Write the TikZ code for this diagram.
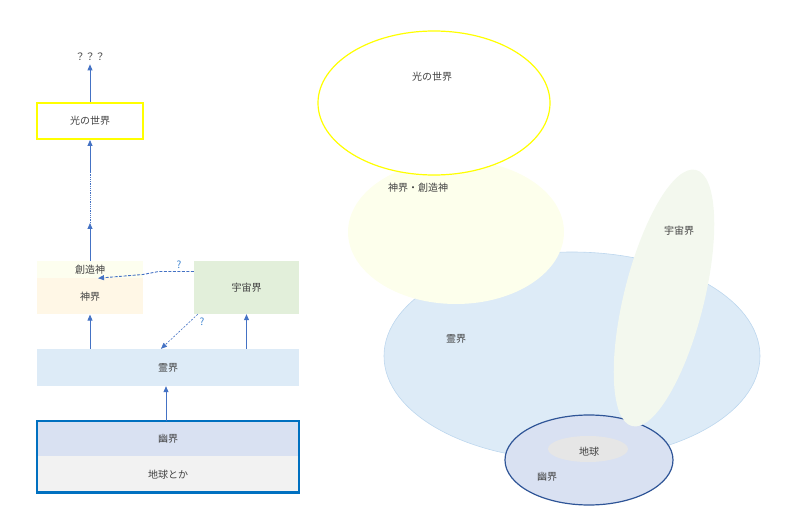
\documentclass[tikz,border=0pt]{standalone}
\usepackage{fontspec}
\setmainfont{Noto Sans CJK JP}
\usepackage{tikz}
\usetikzlibrary{arrows.meta,positioning}
\definecolor{textgray}{HTML}{404040}
\definecolor{arrowblue}{HTML}{4472C4}
\definecolor{qblue}{HTML}{3B82CF}
\definecolor{hikariline}{HTML}{FFFF00}
\definecolor{souzoufill}{HTML}{FDFEEF}
\definecolor{shinfill}{HTML}{FFF7E6}
\definecolor{uchuufill}{HTML}{E2EFDA}
\definecolor{reifill}{HTML}{DDEBF7}
\definecolor{reiline}{HTML}{BDD7EE}
\definecolor{yuufill}{HTML}{D9E1F2}
\definecolor{yuuline}{HTML}{2F5597}
\definecolor{chikyufill}{HTML}{F2F2F2}
\definecolor{frameblue}{HTML}{0070C0}
\definecolor{shinell}{HTML}{FDFFEC}
\definecolor{uchuuell}{HTML}{F3F8EE}

\begin{document}
\begin{tikzpicture}[x=1pt,y=-1pt,>={Triangle[length=6pt,width=5pt]},
    every node/.style={font=\fontsize{10}{12}\selectfont,text=textgray},
    world/.style={rectangle,minimum width=106pt,minimum height=36pt,inner sep=0pt},
    link/.style={->,draw=arrowblue,line width=0.8pt},
    guess/.style={->,draw=arrowblue,line width=0.9pt,dash pattern=on 3pt off 1.5pt},
    qmark/.style={text=qblue}]
  \useasboundingbox (0,0) rectangle (785,529);

  \node[world,draw=hikariline,line width=2pt] (hikari) at (90,121) {光の世界};
  \node (top)   at (90,57) {？？？};
  \node[world,minimum height=17pt,fill=souzoufill] (souzou) at (90,269.5) {創造神};
  \node[world,fill=shinfill] (shin) [below=0pt of souzou] {神界};
  \node[world,minimum width=105pt,minimum height=53pt,fill=uchuufill] (uchuu) at (246.5,287.5) {宇宙界};
  \node[world,minimum width=262pt,minimum height=37pt,fill=reifill] (rei) at (168,367.5) {霊界};
  \node[world,minimum width=262pt,minimum height=35pt,fill=yuufill] (yuu) at (168,438.5) {幽界};
  \node[world,minimum width=262pt,fill=chikyufill] (chikyu) [below=0pt of yuu] {地球とか};
  \draw[frameblue,line width=2.5pt] (yuu.north west) rectangle (chikyu.south east);

  \coordinate (dotlow)  at (90,223);
  \coordinate (dothigh) at (90,173);
  \draw[link] (hikari.north) -- (top.south);
  \draw[link] (souzou.north) -- (dotlow);
  \draw[arrowblue,line width=0.8pt,densely dotted] (dotlow) -- (dothigh);
  \draw[link] (dothigh) -- (hikari.south);
  \draw[guess] ([yshift=16pt]uchuu.west) -- ++(-35,0) -- ++(-16,3) -- ([xshift=8pt]souzou.south);
  \draw[guess,line width=0.6pt,dash pattern=on 2pt off 1.5pt] ([xshift=4pt]uchuu.south west) -- ([xshift=-7pt]rei.north);
  \node[qmark] (qleft)  at (179,265) {?};
  \node[qmark] (qdown)  at (202,322) {?};
  \draw[link] (shin.south |- rei.north) -- (shin.south);
  \draw[link] (uchuu.south |- rei.north) -- (uchuu.south);
  \draw[link] ([xshift=-2pt]yuu.north) -- ([xshift=-2pt]rei.south);

  \filldraw[fill=reifill,draw=reiline,line width=0.6pt] (572,356) ellipse [x radius=188pt,y radius=104pt];
  \filldraw[fill=yuufill,draw=yuuline,line width=1.2pt] (589,460) ellipse [x radius=84pt,y radius=45pt];
  \fill[chikyufill!95!black] (588,449) ellipse [x radius=40pt,y radius=13pt];
  \fill[uchuuell,shift={(664,298)},rotate=-14] (0,0) ellipse [x radius=40pt,y radius=132pt];
  \fill[shinell] (456,232) ellipse [x radius=108pt,y radius=72pt];
  \filldraw[fill=white,draw=hikariline,line width=1.2pt] (434,103) ellipse [x radius=116pt,y radius=72pt];
  \node (lhikari) at (432,77)  {光の世界};
  \node (lshin)   at (418,188) {神界・創造神};
  \node (luchuu)  at (679,231) {宇宙界};
  \node (lrei)    at (456,339) {霊界};
  \node (lchikyu) at (589,452) {地球};
  \node (lyuu)    at (547,477) {幽界};
\end{tikzpicture}
\end{document}
